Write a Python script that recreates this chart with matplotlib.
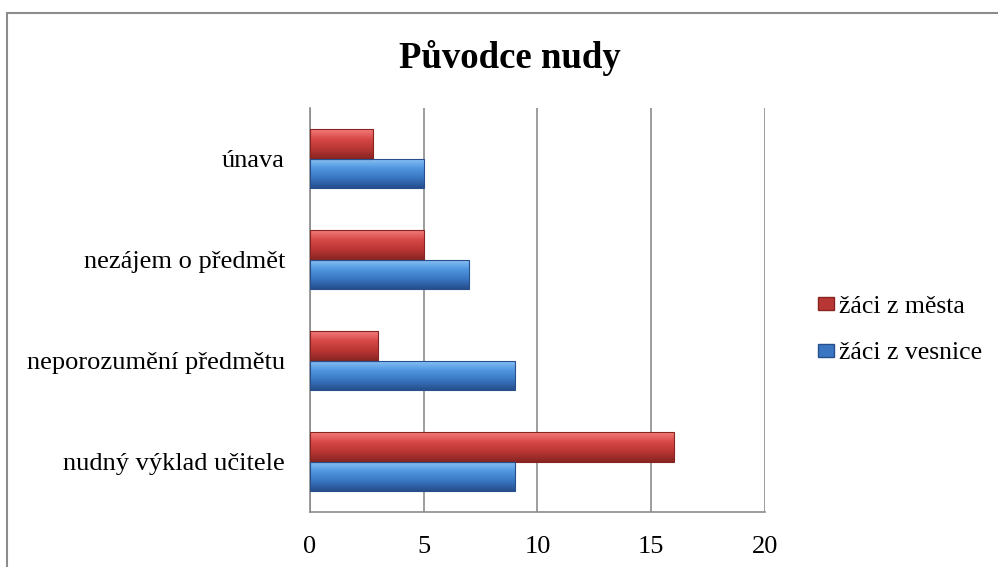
import matplotlib.pyplot as plt
import numpy as np
from matplotlib.patches import Rectangle, Patch
from matplotlib.colors import LinearSegmentedColormap

plt.rcParams['font.family'] = ['Liberation Serif', 'DejaVu Serif']

categories = ['nudný výklad učitele', 'neporozumění předmětu', 'nezájem o předmět', 'únava']
mesto = [16, 3, 5, 2.75]      # žáci z města (red)
vesnice = [9, 9, 7, 5]        # žáci z vesnice (blue)
xticks = [0, 5, 10, 15, 20]

RED = ['#f27c7a', '#d64846', '#b83634', '#872422']
BLUE = ['#8cc4f6', '#5096e0', '#3a76c2', '#264f8c']


def gradient_bars(ax, bars, stops):
    cmap = LinearSegmentedColormap.from_list('g', stops)
    grad = np.linspace(0, 1, 64).reshape(-1, 1)
    for b in bars:
        x0, y0, w, h = b.get_x(), b.get_y(), b.get_width(), b.get_height()
        im = ax.imshow(grad, cmap=cmap, aspect='auto', origin='upper',
                       extent=(x0, x0 + w, y0, y0 + h), zorder=3)
        im.set_clip_path(b)
        b.set_facecolor('none')
        b.set_edgecolor(stops[-1])
        b.set_linewidth(0.8)
        b.set_zorder(4)


fig = plt.figure(figsize=(9.98, 5.67), dpi=100)
ax = fig.add_axes([0.3106, 0.097, 0.4559, 0.7125])

y = np.arange(len(categories))
h = 0.295
b_red = ax.barh(y + h / 2, mesto, height=h, color=RED[1])
b_blue = ax.barh(y - h / 2, vesnice, height=h, color=BLUE[1])
gradient_bars(ax, b_red, RED)
gradient_bars(ax, b_blue, BLUE)

ax.set_xlim(0, 20)
ax.set_ylim(-0.5, len(categories) - 0.5)
ax.set_xticks(xticks)
ax.set_xticklabels([str(t) for t in xticks], fontsize=19)
ax.set_yticks(y)
ax.set_yticklabels(categories, fontsize=19)
ax.tick_params(axis='both', length=0)
ax.tick_params(axis='x', pad=17)
ax.tick_params(axis='y', pad=18)
ax.grid(axis='x', color='#8c8c8c', linewidth=1.2, zorder=0)
ax.set_axisbelow(True)
for s in ['top', 'right']:
    ax.spines[s].set_visible(False)
for s in ['left', 'bottom']:
    ax.spines[s].set_color('#8c8c8c')
    ax.spines[s].set_linewidth(1.2)

fig.text(0.511, 0.880, 'Původce nudy', ha='center', va='baseline',
         fontsize=26.5, fontweight='bold')

handles = [Patch(facecolor=RED[2], edgecolor=RED[3]),
           Patch(facecolor=BLUE[2], edgecolor=BLUE[3])]
fig.legend(handles, ['žáci z města', 'žáci z vesnice'], loc='center left',
           bbox_to_anchor=(0.820, 0.418), frameon=False, fontsize=18.5,
           handlelength=0.6, handleheight=0.4, handletextpad=0.2,
           labelspacing=0.95, borderpad=0, borderaxespad=0)

fig.patches.append(Rectangle((0.007, -0.1), 1.2, 1.077, transform=fig.transFigure,
                             fill=False, edgecolor='#8c8c8c', linewidth=1.5))

fig.savefig('out.png', dpi=100)
